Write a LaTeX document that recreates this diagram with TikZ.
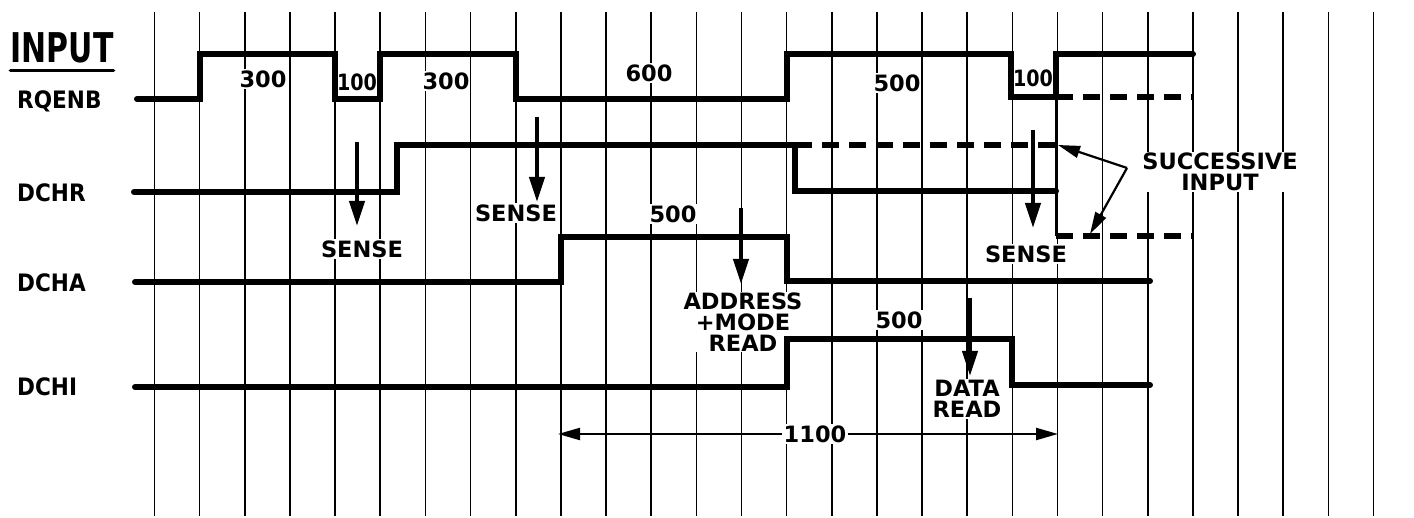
\documentclass[tikz,border=0pt]{standalone}
\usepackage{fontspec}
\usepackage{graphicx}
\setmainfont{DejaVu Sans}
\newfontfamily\labf{DejaVu Sans Bold}
\newfontfamily\namef{DejaVu Sans Bold}
\usetikzlibrary{arrows.meta}
\begin{document}
\begin{tikzpicture}[x=1pt,y=-1pt,
  gridline/.style={line width=1.6pt},
  sig/.style={line width=6pt, line cap=round, line join=miter},
  dsig/.style={line width=5.5pt, dash pattern=on 17pt off 10pt},
  sarrow/.style={line width=4pt, -{Triangle[length=25pt,width=15pt]}},
  thinarrow/.style={line width=2.2pt, -{Triangle[length=22pt,width=12pt]}},
  lbl/.style={font=\labf\fontsize{22.5}{21}\selectfont, fill=white, inner sep=1pt, align=center},
  tightlbl/.style={font=\labf\fontsize{22.5}{21}\selectfont, fill=white, inner sep=0.5pt},
  siglabel/.style={font=\namef\fontsize{24}{26}\selectfont, anchor=west, inner sep=0pt}]

\useasboundingbox (0,0) rectangle (1414,518);
\fill[white] (0,0) rectangle (1414,518);

% grid
\foreach \k in {0,...,27} \draw[gridline] ({154.5+45.15*\k},12) -- ({154.5+45.15*\k},516);

% signal names
\node[font=\namef\fontsize{41}{42}\selectfont, inner sep=0pt] (input) at (62,48) {\scalebox{0.73}[1]{INPUT}};
\draw[line width=3.5pt, line cap=round] ([yshift=-7pt]input.south west) -- ([yshift=-7pt]input.south east);
\node[siglabel] (rqenb) at (17,101) {\scalebox{0.9}[1]{RQENB}};
\node[siglabel] (dchr) at (17,193) {\scalebox{0.9}[1]{DCHR}};
\node[siglabel] (dcha) at (17,283) {\scalebox{0.9}[1]{DCHA}};
\node[siglabel] (dchi) at (17,387) {\scalebox{0.9}[1]{DCHI}};

% time labels
\node[lbl] (t300a) at (263,79) {300};
\node[tightlbl] (t100a) at (357,82) {\scalebox{0.85}[1]{100}};
\node[lbl] (t300b) at (446,81) {300};
\node[lbl] (t600) at (649,73) {600};
\node[lbl] (t500a) at (897,83) {500};
\node[tightlbl] (t100b) at (1033,78) {\scalebox{0.85}[1]{100}};
\node[lbl] (t500b) at (673,214) {500};
\node[lbl] (t500c) at (899,320) {500};

\node[lbl] (sense1) at (362,249) {SENSE};
\node[lbl] (sense2) at (516,213) {SENSE};
\node[lbl] (sense3) at (1026,254) {SENSE};
\node[lbl] (addr) at (743,322) {ADDRESS\\+MODE\\READ};
\node[lbl] (data) at (967,399) {DATA\\READ};
\node[lbl] (succ) at (1220,172) {SUCCESSIVE\\INPUT};
\node[lbl] (t1100) at (815,434) {1100};

% waveforms
\draw[sig] (137,99) -- (199.6,99) -- (199.6,54) -- (335,54) -- (335,99) -- (380,99) -- (380,54)
  -- (515.7,54) -- (515.7,99) -- (786.6,99) -- (786.6,54) -- (1011,54) -- (1011,97)
  -- (1056,97) -- (1056,54) -- (1193,54);
\draw[dsig] (1056,97) -- (1193,97);

\draw[sig] (134,192) -- (397,192) -- (397,145) -- (795,145) -- (795,191) -- (1056,191);
\draw[dsig] (795,145) -- (1056,145);
\draw[line width=2.8pt] (1056,97) -- (1056,236);
\draw[dsig] (1056,236) -- (1193,236);

\draw[sig] (135,282) -- (560.8,282) -- (560.8,237) -- (786.6,237) -- (786.6,281) -- (1150,281);
\draw[sig] (135,387) -- (786.6,387) -- (786.6,339) -- (1012,339) -- (1012,385) -- (1150,385);

% sense arrows
\coordinate (a1s) at (357,142); \coordinate (a1e) at (357,226);
\coordinate (a2s) at (537,117); \coordinate (a2e) at (537,202);
\coordinate (a3s) at (741,208); \coordinate (a3e) at (741,284);
\coordinate (a4s) at (1033,130); \coordinate (a4e) at (1033,228);
\coordinate (a5s) at (970,298); \coordinate (a5e) at (970,376);
\draw[sarrow] (a1s) -- (a1e);
\draw[sarrow] (a2s) -- (a2e);
\draw[sarrow] (a3s) -- (a3e);
\draw[sarrow] (a4s) -- (a4e);
\draw[sarrow] (a5s) -- (a5e);

% successive input pointers
\coordinate (si) at (1127,168);
\coordinate (siA) at (1058,145);
\coordinate (siB) at (1090,234);
\draw[thinarrow] (si) -- (siA);
\draw[thinarrow] (si) -- (siB);

% 1100 dimension
\coordinate (dimL) at (558,434);
\coordinate (dimR) at (1058,434);
\draw[line width=2.2pt, -{Triangle[length=22pt,width=12pt]}] (t1100.west) -- (dimL);
\draw[line width=2.2pt, -{Triangle[length=22pt,width=12pt]}] (t1100.east) -- (dimR);
\end{tikzpicture}
\end{document}
